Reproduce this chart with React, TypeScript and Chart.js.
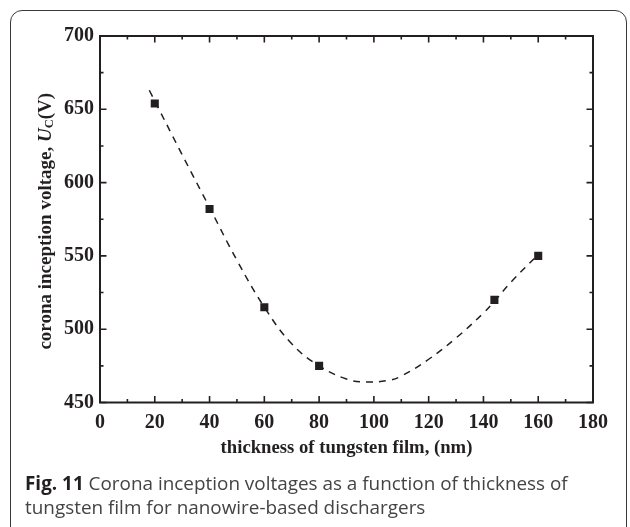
import React, { useEffect, useRef } from "react";
import { Chart, registerables } from "chart.js";

Chart.register(...registerables);

// Measured data (thickness in nm, corona inception voltage in V)
const thickness = [20, 40, 60, 80, 144, 160];
const voltage = [654, 582, 515, 475, 520, 550];

// Fitted dashed curve
const fitThickness = [18, 30, 40, 50, 60, 70, 80, 90, 97, 105, 110, 120, 130, 140, 144, 150, 160];
const fitVoltage = [663, 619, 583, 547, 515, 490, 475, 466, 464, 465, 468, 479.5, 494, 511, 519, 532, 551];

const xMin = 0, xMax = 180, xStep = 20, xMinor = 10;
const yMin = 450, yMax = 700, yStep = 50, yMinor = 25;

const xTitle = "thickness of tungsten film, (nm)";
const yTitleMain = "corona inception voltage, ";
const yTitleSym = "U";
const yTitleSub = "C";
const yTitleUnit = "(V)";

const captionBold = "Fig. 11";
const captionText = " Corona inception voltages as a function of thickness of tungsten film for nanowire-based dischargers";

const SERIF = "'Liberation Serif', 'Times New Roman', serif";

const framePlugin = {
  id: "framePlugin",
  afterDatasetsDraw(chart: any) {
    const { ctx, chartArea: a, scales } = chart;
    const xs = scales.x, ys = scales.y;
    ctx.save();
    ctx.strokeStyle = "#231f20";
    ctx.lineWidth = 2;
    ctx.strokeRect(a.left, a.top, a.right - a.left, a.bottom - a.top);
    ctx.lineWidth = 1.6;
    ctx.beginPath();
    for (let v = xMin; v <= xMax; v += xMinor) {
      const px = xs.getPixelForValue(v);
      const len = v % xStep === 0 ? 6.5 : 3.5;
      ctx.moveTo(px, a.bottom);
      ctx.lineTo(px, a.bottom - len);
      ctx.moveTo(px, a.top);
      ctx.lineTo(px, a.top + len);
    }
    for (let v = yMin; v <= yMax; v += yMinor) {
      const py = ys.getPixelForValue(v);
      const len = v % yStep === 0 ? 6.5 : 3.5;
      ctx.moveTo(a.left, py);
      ctx.lineTo(a.left + len, py);
      ctx.moveTo(a.right, py);
      ctx.lineTo(a.right - len, py);
    }
    ctx.stroke();

    // axis titles
    ctx.fillStyle = "#231f20";
    ctx.font = `bold 18.7px ${SERIF}`;
    ctx.textAlign = "center";
    ctx.textBaseline = "middle";
    ctx.fillText(xTitle, (a.left + a.right) / 2, 448);

    ctx.save();
    ctx.translate(46, (a.top + a.bottom) / 2 + 2);
    ctx.rotate(-Math.PI / 2);
    ctx.textAlign = "left";
    ctx.textBaseline = "middle";
    const fMain = `bold 19px ${SERIF}`;
    const fSym = `italic bold 19px ${SERIF}`;
    const fSub = `bold 12.5px ${SERIF}`;
    ctx.font = fMain;
    const w1 = ctx.measureText(yTitleMain).width;
    ctx.font = fSym;
    const w2 = ctx.measureText(yTitleSym).width;
    ctx.font = fSub;
    const w3 = ctx.measureText(yTitleSub).width;
    ctx.font = fMain;
    const w4 = ctx.measureText(yTitleUnit).width;
    let x = -(w1 + w2 + w3 + w4) / 2;
    ctx.font = fMain;
    ctx.fillText(yTitleMain, x, 0);
    x += w1;
    ctx.font = fSym;
    ctx.fillText(yTitleSym, x, 0);
    x += w2;
    ctx.font = fSub;
    ctx.fillText(yTitleSub, x, 4);
    x += w3;
    ctx.font = fMain;
    ctx.fillText(yTitleUnit, x, 0);
    ctx.restore();
    ctx.restore();
  },
};

export default function App() {
  const ref = useRef<HTMLCanvasElement>(null);
  useEffect(() => {
    if (!ref.current) return;
    const chart = new Chart(ref.current, {
      type: "scatter",
      data: {
        datasets: [
          {
            label: "fit",
            data: fitThickness.map((t, i) => ({ x: t, y: fitVoltage[i] })),
            showLine: true,
            borderColor: "#231f20",
            borderWidth: 1.5,
            borderDash: [7, 6],
            pointRadius: 0,
            tension: 0.4,
            fill: false,
          },
          {
            label: "measured",
            data: thickness.map((t, i) => ({ x: t, y: voltage[i] })),
            showLine: false,
            pointStyle: "rect",
            pointRadius: 5.7,
            backgroundColor: "#231f20",
            borderColor: "#231f20",
            borderWidth: 0,
          },
        ],
      },
      options: {
        animation: false,
        responsive: false,
        maintainAspectRatio: false,
        layout: { padding: { left: 0, top: 36, right: 37, bottom: 0 } },
        plugins: { legend: { display: false }, tooltip: { enabled: false } },
        scales: {
          x: {
            type: "linear",
            min: xMin,
            max: xMax,
            grid: { display: false, drawTicks: false },
            border: { display: false },
            ticks: {
              stepSize: xStep,
              padding: 8,
              color: "#231f20",
              font: { family: SERIF, size: 20, weight: "bold" },
              maxRotation: 0,
            },
            afterFit(scale: any) {
              scale.height = 124.5;
            },
          },
          y: {
            type: "linear",
            min: yMin,
            max: yMax,
            grid: { display: false, drawTicks: false },
            border: { display: false },
            ticks: {
              stepSize: yStep,
              padding: 6,
              color: "#231f20",
              font: { family: SERIF, size: 20, weight: "bold" },
            },
            afterFit(scale: any) {
              scale.width = 100;
            },
          },
        },
      },
      plugins: [framePlugin],
    });
    return () => chart.destroy();
  }, []);

  return (
    <div
      style={{
        position: "fixed",
        left: 0,
        top: 0,
        width: 630,
        height: 527,
        background: "#fff",
        overflow: "hidden",
      }}
    >
      <div
        style={{
          position: "absolute",
          left: 9.5,
          top: 10,
          width: 617,
          height: 600,
          border: "1.6px solid #3a3a3a",
          borderRadius: 12,
          boxSizing: "border-box",
        }}
      />
      <canvas
        ref={ref}
        width={630}
        height={527}
        style={{ position: "absolute", left: 0, top: 0, width: 630, height: 527 }}
      />
      <div
        style={{
          position: "absolute",
          left: 25,
          top: 471,
          width: 600,
          fontFamily: "'Open Sans', sans-serif",
          fontSize: 18.9,
          lineHeight: "24px",
          color: "#444",
        }}
      >
        <span style={{ fontWeight: 700, color: "#231f20" }}>{captionBold}</span>
        {captionText}
      </div>
    </div>
  );
}
